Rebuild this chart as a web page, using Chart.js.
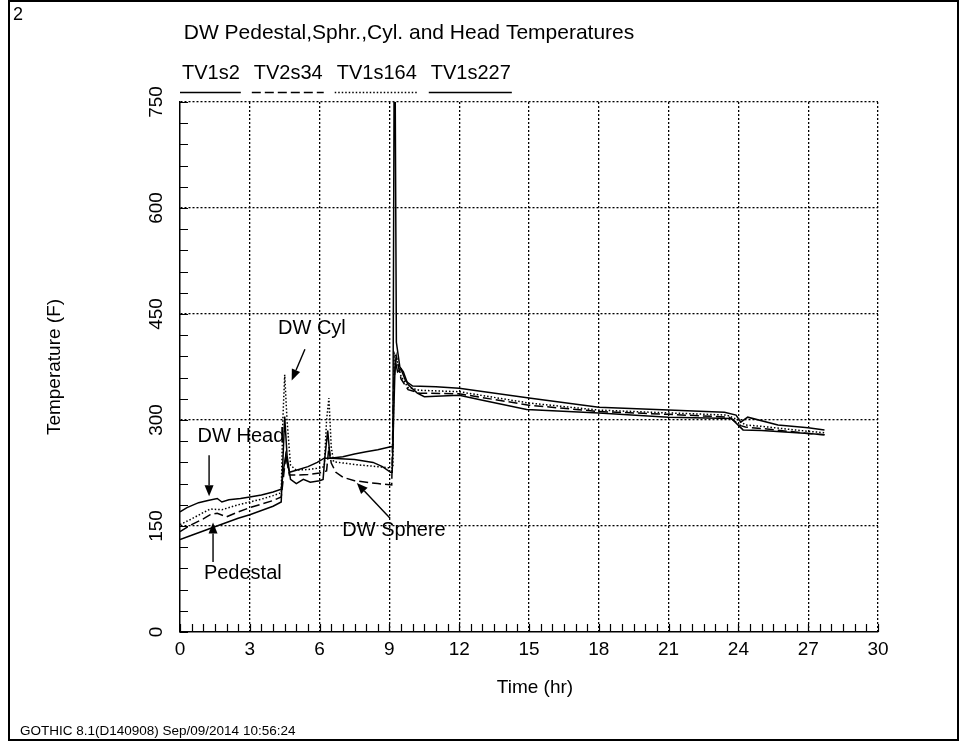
<!DOCTYPE html>
<html lang="en">
<head>
  <meta charset="UTF-8" />
  <title>DW Pedestal,Sphr.,Cyl. and Head Temperatures</title>
  <script src="https://cdn.jsdelivr.net/npm/chart.js@4"></script>
  <style>
    html, body { margin: 0; padding: 0; background: #fff; }
    canvas { display: block; }
  </style>
</head>
<body>
  <canvas id="grafico" width="963" height="742"></canvas>

  <script>
    // values: time (hr) / temperature (F)
    const seriesNames = ['TV1s2', 'TV2s34', 'TV1s164', 'TV1s227'];
    const xTicks = [0, 3, 6, 9, 12, 15, 18, 21, 24, 27, 30];
    const yTicks = [0, 150, 300, 450, 600, 750];

    // TV1s2 - pedestal (solid)
    const pedT = [0, 0.5, 1, 1.5, 2, 2.5, 3, 3.5, 4, 4.35, 4.42, 4.5, 4.6, 4.75, 5, 5.3, 5.6, 6, 6.15, 6.22, 6.35, 6.45, 7, 7.5, 8, 8.5, 9.05, 9.15, 9.2, 9.25, 9.3, 9.45, 9.6, 9.8, 10.2, 10.5, 12, 13, 14.9, 18, 21, 23.7, 24.2, 25, 27, 27.7];
    const pedF = [131, 137, 143, 149, 155, 161, 166, 172, 178, 184, 240, 305, 250, 216, 210, 216, 212, 214, 216, 245, 285, 246, 248, 252, 255, 258, 262, 262, 760, 760, 410, 375, 368, 350, 338, 333, 335, 328, 315, 310, 304, 302, 286, 285, 281, 279];

    // TV2s34 - sphere (dashed)
    const sphT = [0, 0.5, 1, 1.3, 1.6, 2, 2.5, 3, 3.5, 4, 4.35, 4.45, 4.55, 4.7, 5, 5.5, 6, 6.3, 6.4, 6.5, 6.7, 7, 7.5, 8.5, 9.1, 9.18, 9.3, 9.5, 9.8, 10.3, 12, 15, 18, 21, 23.6, 24.1, 24.3, 25, 27, 27.7];
    const sphF = [142, 152, 160, 166, 168, 163, 170, 176, 181, 186, 191, 220, 250, 222, 222, 223, 225, 228, 262, 239, 226, 219, 214, 210, 208, 350, 390, 358, 343, 338, 337, 321, 312, 308, 304, 292, 290, 288, 281, 279];

    // TV1s164 - cylinder (dotted)
    const cylT = [0, 0.5, 1, 1.3, 1.8, 2.5, 3, 3.5, 4, 4.35, 4.42, 4.5, 4.6, 4.75, 5, 5.5, 6, 6.2, 6.3, 6.4, 6.5, 6.6, 7.5, 8.5, 9.1, 9.15, 9.2, 9.3, 9.5, 9.8, 10.3, 12, 15, 18, 21, 23.5, 24, 24.3, 25, 27, 27.7];
    const cylF = [152, 160, 169, 174, 173, 180, 184, 188, 193, 197, 300, 364, 300, 236, 229, 230, 232, 234, 300, 331, 262, 241, 237, 234, 232, 232, 395, 388, 362, 346, 342, 340, 324, 314, 310, 307, 300, 293, 291, 284, 282];

    // TV1s227 - head (solid)
    const headT = [0, 0.3, 0.8, 1.2, 1.6, 1.8, 2.1, 2.6, 3, 3.5, 4, 4.35, 4.45, 4.55, 4.7, 5, 5.5, 5.9, 6.2, 6.5, 7.5, 8.3, 8.7, 9.05, 9.12, 9.18, 9.25, 9.35, 9.5, 9.7, 10, 11, 12, 15, 18, 21, 23.4, 23.9, 24.1, 24.4, 25.7, 27, 27.7];
    const headF = [170, 176, 183, 186, 189, 184, 187, 189, 191, 194, 198, 202, 230, 250, 226, 229, 234, 240, 246, 246, 244, 240, 234, 226, 226, 300, 385, 368, 372, 355, 348, 347, 345, 331, 318, 314, 311, 307, 297, 304, 293, 289, 286];

    const FONT = '"Liberation Sans", Arial, sans-serif';
    const pts = (ts, vs) => ts.map((t, i) => ({ x: t, y: vs[i] }));

    // callouts: text centre + arrow tail/head, in data units
    const callouts = [
      { text: 'DW Head',   at: [2.62, 276], from: [1.25, 250], to: [1.25, 192] },
      { text: 'Pedestal',  at: [2.7, 83],   from: [1.42, 99],  to: [1.42, 155] },
      { text: 'DW Cyl',    at: [5.67, 430], from: [5.37, 400], to: [4.8, 356] },
      { text: 'DW Sphere', at: [9.2, 144],  from: [9.03, 161], to: [7.6, 211] }
    ];

    function arrow(ctx, x1, y1, x2, y2) {
      const ang = Math.atan2(y2 - y1, x2 - x1);
      const len = 11, half = 4.5;
      ctx.beginPath();
      ctx.moveTo(x1, y1);
      ctx.lineTo(x2 - Math.cos(ang) * len, y2 - Math.sin(ang) * len);
      ctx.stroke();
      ctx.beginPath();
      ctx.moveTo(x2, y2);
      ctx.lineTo(x2 - Math.cos(ang) * len - Math.sin(ang) * half, y2 - Math.sin(ang) * len + Math.cos(ang) * half);
      ctx.lineTo(x2 - Math.cos(ang) * len + Math.sin(ang) * half, y2 - Math.sin(ang) * len - Math.cos(ang) * half);
      ctx.closePath();
      ctx.fill();
    }

    const extras = {
      id: 'extras',
      afterDraw(chart) {
        const { ctx, chartArea: a, scales: { x, y } } = chart;
        ctx.save();
        ctx.fillStyle = '#000';
        ctx.strokeStyle = '#000';
        ctx.setLineDash([]);

        // outer frame
        ctx.lineWidth = 2;
        ctx.strokeRect(9, 1, 949, 739);

        // inward minor ticks
        ctx.lineWidth = 1.2;
        ctx.beginPath();
        for (let t = 0; t <= 30; t += 0.5) {
          const px = Math.round(x.getPixelForValue(t)) + 0.5;
          ctx.moveTo(px, a.bottom); ctx.lineTo(px, a.bottom - 8);
        }
        for (let v = 0; v <= 750; v += 30) {
          const py = Math.round(y.getPixelForValue(v)) + 0.5;
          ctx.moveTo(a.left, py); ctx.lineTo(a.left + 8, py);
        }
        ctx.stroke();

        // y tick labels, rotated like the original
        ctx.font = '19px ' + FONT;
        ctx.textAlign = 'center';
        ctx.textBaseline = 'middle';
        yTicks.forEach(v => {
          ctx.save();
          ctx.translate(157, y.getPixelForValue(v));
          ctx.rotate(-Math.PI / 2);
          ctx.fillText(String(v), 0, 0);
          ctx.restore();
        });

        // axis titles
        ctx.save();
        ctx.translate(55, (a.top + a.bottom) / 2);
        ctx.rotate(-Math.PI / 2);
        ctx.fillText('Temperature (F)', 0, 0);
        ctx.restore();
        ctx.fillText('Time (hr)', 535, 688);

        // page number, title, footer
        ctx.textAlign = 'left';
        ctx.font = '18px ' + FONT;
        ctx.fillText('2', 13, 15);
        ctx.font = '21px ' + FONT;
        ctx.textAlign = 'center';
        ctx.fillText('DW Pedestal,Sphr.,Cyl. and Head Temperatures', 409, 33);
        ctx.textAlign = 'left';
        ctx.font = '13.5px ' + FONT;
        ctx.fillText('GOTHIC 8.1(D140908) Sep/09/2014 10:56:24', 20, 731);

        // legend: name above a sample of the line style
        ctx.font = '20px ' + FONT;
        let lx = 182;
        chart.data.datasets.forEach(ds => {
          const w = ctx.measureText(ds.label).width;
          ctx.fillText(ds.label, lx, 73);
          ctx.save();
          ctx.lineWidth = 1.6;
          ctx.setLineDash(ds.borderDash || []);
          ctx.beginPath();
          ctx.moveTo(lx - 2, 92.5); ctx.lineTo(lx + w + 1, 92.5);
          ctx.stroke();
          ctx.restore();
          lx += w + 14;
        });

        // callouts with arrows
        ctx.textAlign = 'center';
        ctx.lineWidth = 1.4;
        callouts.forEach(c => {
          ctx.fillText(c.text, x.getPixelForValue(c.at[0]), y.getPixelForValue(c.at[1]));
          arrow(ctx,
            x.getPixelForValue(c.from[0]), y.getPixelForValue(c.from[1]),
            x.getPixelForValue(c.to[0]), y.getPixelForValue(c.to[1]));
        });

        ctx.restore();
      }
    };

    const lineStyle = { borderColor: '#000', borderWidth: 1.5, pointRadius: 0, tension: 0, fill: false };

    new Chart(document.getElementById('grafico'), {
      type: 'line',
      data: {
        datasets: [
          { ...lineStyle, label: seriesNames[0], data: pts(pedT, pedF), borderDash: [] },
          { ...lineStyle, label: seriesNames[1], data: pts(sphT, sphF), borderDash: [9, 4] },
          { ...lineStyle, label: seriesNames[2], data: pts(cylT, cylF), borderDash: [1.5, 2] },
          { ...lineStyle, label: seriesNames[3], data: pts(headT, headF), borderDash: [] }
        ]
      },
      options: {
        responsive: false,
        animation: false,
        layout: { padding: { left: 0, top: 102, right: 85, bottom: 0 } },
        plugins: { legend: { display: false }, tooltip: { enabled: false } },
        scales: {
          x: {
            type: 'linear', min: 0, max: 30,
            afterBuildTicks: s => { s.ticks = xTicks.map(v => ({ value: v })); },
            afterFit: s => { s.height = 110; },
            ticks: { color: '#000', font: { family: FONT, size: 19 }, padding: 6 },
            grid: { color: c => c.tick && c.tick.value === 0 ? 'rgba(0,0,0,0)' : '#000', lineWidth: 1.3, drawTicks: false },
            border: { color: '#000', width: 1.5, dash: [2, 2] }
          },
          y: {
            type: 'linear', min: 0, max: 750,
            afterBuildTicks: s => { s.ticks = yTicks.map(v => ({ value: v })); },
            afterFit: s => { s.width = 180; },
            ticks: { display: false },
            grid: { color: c => c.tick && c.tick.value === 0 ? 'rgba(0,0,0,0)' : '#000', lineWidth: 1.3, drawTicks: false },
            border: { color: '#000', width: 1.5, dash: [2, 2] }
          }
        }
      },
      plugins: [extras]
    });
  </script>
</body>
</html>
